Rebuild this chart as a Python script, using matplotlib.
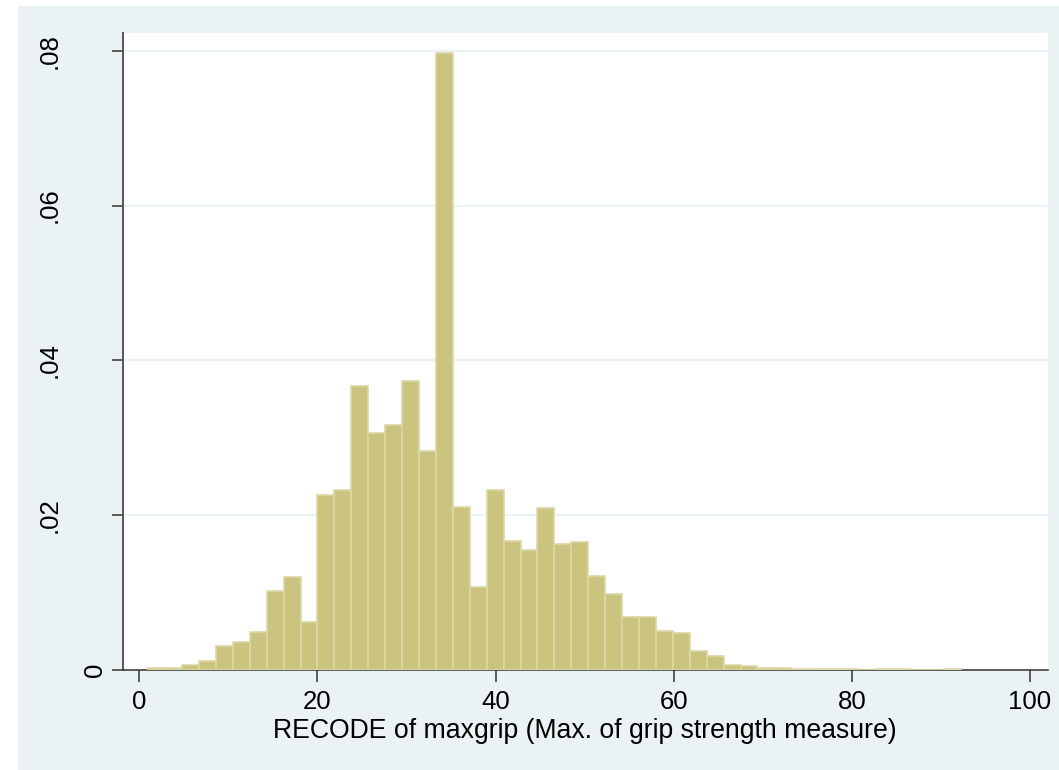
import numpy as np
import matplotlib
matplotlib.use("Agg")
import matplotlib.pyplot as plt
from matplotlib.patches import Rectangle

plt.rcParams.update({
    "font.family": ["Liberation Sans", "DejaVu Sans"],
    "font.size": 18.5,
})

# histogram bins: start and width of each bin, density per bin
bin_start = 1.0
bin_width = 1.9
density = [
    0.0002, 0.0003, 0.0006, 0.0011, 0.0031, 0.0036, 0.0049, 0.0102, 0.0120, 0.0062,
    0.0226, 0.0233, 0.0367, 0.0306, 0.0316, 0.0374, 0.0283, 0.0797, 0.0211, 0.0107,
    0.0232, 0.0167, 0.0155, 0.0209, 0.0163, 0.0165, 0.0121, 0.0098, 0.0069, 0.0069,
    0.0051, 0.0048, 0.0024, 0.0018, 0.0007, 0.0005, 0.0003, 0.0002, 0.0001, 0.0001,
    0.0001, 0.0001, 0.0000, 0.0001, 0.0001, 0.0000, 0.0000, 0.0001,
]
x_ticks = [0, 20, 40, 60, 80, 100]
y_ticks = [0, 0.02, 0.04, 0.06, 0.08]
y_tick_labels = ["0", ".02", ".04", ".06", ".08"]
x_title = "RECODE of maxgrip (Max. of grip strength measure)"

BG = "#EAF2F3"
BAR_FILL = "#CBC47F"
BAR_EDGE = "#DCD8A6"

fig = plt.figure(figsize=(10.59, 7.70), dpi=100, facecolor="white")
# Stata-style graph region behind the plot
fig.patches.append(Rectangle((18 / 1059, 0), 1 - 18 / 1059, 1 - 6 / 770,
                             transform=fig.transFigure, facecolor=BG,
                             edgecolor="none", zorder=-10))

ax = fig.add_axes([123 / 1059, 1 - 670 / 770, (1047.5 - 123) / 1059, (670 - 33) / 770])
ax.set_facecolor("white")

edges = bin_start + bin_width * np.arange(len(density))
ax.bar(edges, density, width=bin_width, align="edge", color=BAR_FILL,
       edgecolor=BAR_EDGE, linewidth=1.2, zorder=3)

ax.set_xlim(-1.83, 101.96)
ax.set_ylim(0, 0.0823)

ax.set_xticks(x_ticks)
ax.set_yticks(y_ticks)
ax.set_yticklabels(y_tick_labels, rotation=90, va="center")
ax.yaxis.grid(True, color=BG, linewidth=1.6, zorder=1)
ax.set_axisbelow(True)

ax.tick_params(axis="x", length=8.4, width=1.1, color="#333333", pad=6)
ax.tick_params(axis="y", length=8, width=1.1, color="#333333")
# Stata offsets the rotated labels by their unrotated width
for tick, lab in zip(ax.yaxis.get_major_ticks(), y_tick_labels):
    tick.set_pad(3.8 if len(lab) == 1 else 36.3)

for side in ("top", "right"):
    ax.spines[side].set_visible(False)
ax.spines["left"].set_color("#555555")
ax.spines["left"].set_linewidth(1.4)
ax.spines["bottom"].set_color("#333333")
ax.spines["bottom"].set_linewidth(1.1)

ax.set_xlabel(x_title, fontsize=19.2)
ax.xaxis.set_label_coords(0.5, -0.075)

fig.savefig("out.png", dpi=100, facecolor="white")
